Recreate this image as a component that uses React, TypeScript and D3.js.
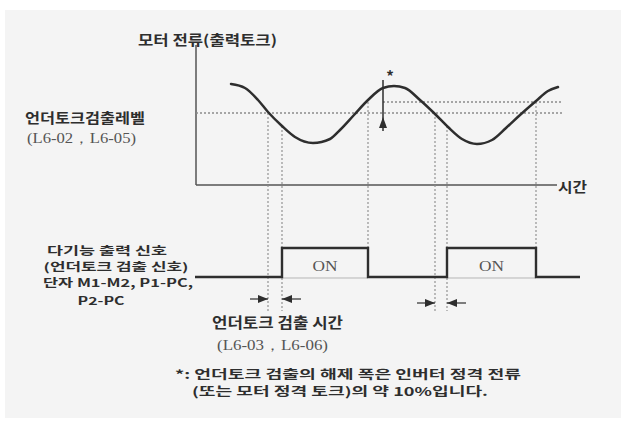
import React from "react";
import * as d3 from "d3";

// ---- data (time in arbitrary units, current in % of axis height) ----
const waveTime = [35, 49, 62, 72, 86, 99, 117, 134, 144, 158, 172, 187, 198, 209, 224, 239, 252, 266, 281, 296, 310, 324, 340, 352, 362];
const waveCurrent = [101, 97, 85, 73, 59, 48, 42, 46, 55, 70, 85, 97, 99, 97, 85, 71, 58, 46, 41, 45, 57, 70, 84, 94, 98];
const lowerLevel = 72; // under-torque detection level
const upperLevel = 83; // release level (+10%)
const detectStart = [72, 239]; // current falls below level
const onStart = [86, 251]; // after detection time
const onEnd = [172, 340]; // current rises above release level
const signalRange = [-1, 384];
const hysteresisT = 187;

const yAxisLabel = "모터 전류(출력토크)";
const xAxisLabel = "시간";
const levelLabel = "언더토크검출레벨";
const levelParam = "(L6-02，L6-05)";
const signalLabels = ["다기능 출력 신호", "(언더토크 검출 신호)", "단자 M1-M2, P1-PC,", "P2-PC"];
const timeLabel = "언더토크 검출 시간";
const timeParam = "(L6-03，L6-06)";
const noteLines = ["*: 언더토크 검출의 해제 폭은 인버터 정격 전류", "(또는 모터 정격 토크)의 약 10%입니다."];
const onLabel = "ON";

export default function App() {
  const x = d3.scaleLinear().domain([0, 364]).range([196, 560]);
  const y = d3.scaleLinear().domain([0, 140]).range([185, 45]);
  const s = d3.scaleLinear().domain([0, 1]).range([277, 248]);

  const wavePts: [number, number][] = waveTime.map((t, i) => [t, waveCurrent[i]]);
  const waveLine = d3
    .line<[number, number]>()
    .x((d) => x(d[0]))
    .y((d) => y(d[1]))
    .curve(d3.curveMonotoneX);

  const waveAt = (t: number) => {
    const interp = d3.scaleLinear().domain(waveTime).range(waveCurrent);
    return interp(t);
  };

  // signal points
  const sig: [number, number][] = [[signalRange[0], 0]];
  onStart.forEach((t0, i) => {
    sig.push([t0, 0], [t0, 1], [onEnd[i], 1], [onEnd[i], 0]);
  });
  sig.push([signalRange[1], 0]);
  const sigLine = d3
    .line<[number, number]>()
    .x((d) => x(d[0]))
    .y((d) => s(d[1]));

  const korean = "'Noto Sans CJK KR', 'Noto Sans', sans-serif";
  const serif = "'Liberation Serif', 'DejaVu Serif', serif";
  const ink = "#2e2e2e";
  const dot = "#8a8a8a";

  const arrowHead = (tipX: number, yy: number, dir: number, key: string) => (
    <path key={key} d={`M${tipX},${yy} L${tipX - dir * 10},${yy - 4} L${tipX - dir * 10},${yy + 4} Z`} fill={ink} />
  );

  const arrowY = [299, 303];

  return (
    <svg width={624} height={421} style={{ position: "absolute", left: 0, top: 0, background: "#fff" }}>
      <rect x={5} y={10} width={616} height={408} fill="#f4f4f4" />

      {/* axes */}
      <line x1={x(0)} y1={y(140)} x2={x(0)} y2={y(0)} stroke="#555" strokeWidth={1.5} />
      <line x1={x(0)} y1={y(0)} x2={x(361)} y2={y(0)} stroke="#555" strokeWidth={1.5} />

      {/* threshold levels */}
      <line x1={x(0)} y1={y(lowerLevel)} x2={x(367)} y2={y(lowerLevel)} stroke={dot} strokeWidth={1.3} strokeDasharray="2,2" />
      <line x1={x(hysteresisT)} y1={y(upperLevel)} x2={x(367)} y2={y(upperLevel)} stroke={dot} strokeWidth={1.3} strokeDasharray="2,2" />

      {/* vertical guides */}
      {detectStart.map((t, i) => (
        <line key={"ds" + i} x1={x(t)} y1={y(lowerLevel)} x2={x(t)} y2={311} stroke={dot} strokeWidth={1.1} strokeDasharray="2,2" />
      ))}
      {onStart.map((t, i) => (
        <line key={"os" + i} x1={x(t)} y1={y(waveAt(t))} x2={x(t)} y2={311} stroke={dot} strokeWidth={1.1} strokeDasharray="2,2" />
      ))}
      {onEnd.map((t, i) => (
        <line key={"oe" + i} x1={x(t)} y1={y(upperLevel)} x2={x(t)} y2={s(1)} stroke={dot} strokeWidth={1.1} strokeDasharray="2,2" />
      ))}

      {/* wave */}
      <path d={waveLine(wavePts) || ""} fill="none" stroke={ink} strokeWidth={2.5} strokeLinecap="round" />

      {/* hysteresis arrow */}
      <line x1={x(hysteresisT)} y1={80} x2={x(hysteresisT)} y2={131} stroke={ink} strokeWidth={1.5} />
      <path d={`M${x(hysteresisT)},${117} L${x(hysteresisT) - 4},${128} L${x(hysteresisT) + 4},${128} Z`} fill={ink} />
      <text x={x(hysteresisT) + 7} y={82} fontFamily={korean} fontSize={15} fontWeight={700} fill={ink} textAnchor="middle">*</text>

      {/* signal */}
      {onStart.map((t, i) => (
        <line key={"bl" + i} x1={x(t)} y1={s(0) + 1} x2={x(onEnd[i])} y2={s(0) + 1} stroke="#b5b5b5" strokeWidth={1} />
      ))}
      <path d={sigLine(sig) || ""} fill="none" stroke={ink} strokeWidth={2.4} />
      {onStart.map((t, i) => (
        <text key={"on" + i} x={(x(t) + x(onEnd[i])) / 2} y={271} fontFamily={serif} fontSize={14} fill="#555" textAnchor="middle" textLength={25} lengthAdjust="spacingAndGlyphs">
          {onLabel}
        </text>
      ))}

      {/* detection time arrows */}
      {detectStart.map((t, i) => (
        <g key={"ar" + i}>
          <line x1={x(t) - 18} y1={arrowY[i]} x2={x(t)} y2={arrowY[i]} stroke={ink} strokeWidth={1.2} />
          {arrowHead(x(t), arrowY[i], 1, "a")}
          <line x1={x(onStart[i])} y1={arrowY[i]} x2={x(onStart[i]) + 19} y2={arrowY[i]} stroke={ink} strokeWidth={1.2} />
          {arrowHead(x(onStart[i]), arrowY[i], -1, "b")}
        </g>
      ))}

      {/* labels */}
      <text x={138} y={45} fontFamily={korean} fontSize={14} fontWeight={700} fill={ink} textLength={139} lengthAdjust="spacingAndGlyphs">{yAxisLabel}</text>
      <text x={558} y={192} fontFamily={korean} fontSize={14} fontWeight={700} fill={ink} textLength={29} lengthAdjust="spacingAndGlyphs">{xAxisLabel}</text>
      <text x={25} y={123} fontFamily={korean} fontSize={14} fontWeight={700} fill={ink} textLength={120} lengthAdjust="spacingAndGlyphs">{levelLabel}</text>
      <text x={27} y={143} fontFamily={serif} fontSize={14} fill="#555" textLength={109} lengthAdjust="spacingAndGlyphs">{levelParam}</text>

      <text x={107} y={255} fontFamily={korean} fontSize={11} fontWeight={700} fill={ink} textAnchor="middle" textLength={120} lengthAdjust="spacingAndGlyphs">{signalLabels[0]}</text>
      <text x={116} y={271} fontFamily={korean} fontSize={11} fontWeight={700} fill={ink} textAnchor="middle" textLength={145} lengthAdjust="spacingAndGlyphs">{signalLabels[1]}</text>
      <text x={118} y={287} fontFamily={korean} fontSize={11} fontWeight={700} fill={ink} textAnchor="middle" textLength={150} lengthAdjust="spacingAndGlyphs">{signalLabels[2]}</text>
      <text x={101} y={305} fontFamily={korean} fontSize={11} fontWeight={700} fill={ink} textAnchor="middle" textLength={47} lengthAdjust="spacingAndGlyphs">{signalLabels[3]}</text>

      <text x={212} y={328} fontFamily={korean} fontSize={15} fontWeight={700} fill={ink} textLength={131} lengthAdjust="spacingAndGlyphs">{timeLabel}</text>
      <text x={217} y={350} fontFamily={serif} fontSize={14} fill="#555" textLength={111} lengthAdjust="spacingAndGlyphs">{timeParam}</text>

      <text x={175} y={379} fontFamily={korean} fontSize={12} fontWeight={700} fill={ink} textLength={346} lengthAdjust="spacingAndGlyphs">{noteLines[0]}</text>
      <text x={192} y={396} fontFamily={korean} fontSize={12} fontWeight={700} fill={ink} textLength={296} lengthAdjust="spacingAndGlyphs">{noteLines[1]}</text>
    </svg>
  );
}
